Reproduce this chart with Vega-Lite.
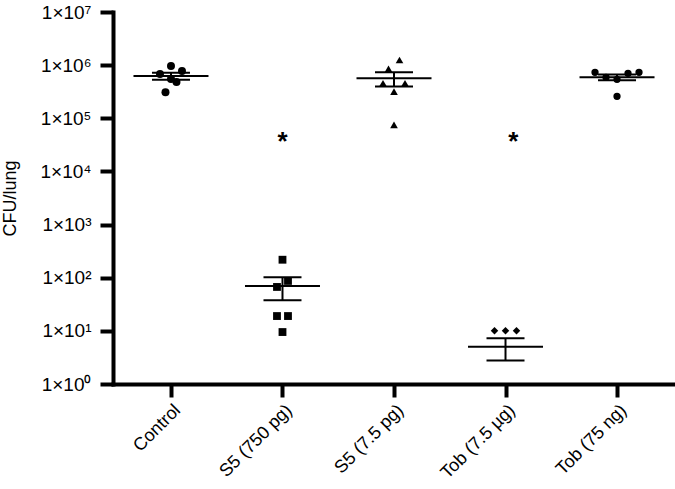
{
  "$schema": "https://vega.github.io/schema/vega-lite/v6.json",
  "autosize": {"type": "none"},
  "padding": {"left": 113, "top": 12, "right": 0, "bottom": 105},
  "width": 562,
  "height": 372,
  "background": "white",
  "config": {
    "view": {"stroke": null},
    "font": "Liberation Sans",
    "axis": {"labelFont": "Liberation Sans", "titleFont": "Liberation Sans", "labelColor": "black", "titleColor": "black", "domainColor": "black", "tickColor": "black", "labelFontSize": 18, "titleFontSize": 18}
  },
  "datasets": {
    "mice": [
      {"group": "Control", "cfu": 960000, "col": 0},
      {"group": "Control", "cfu": 680000, "col": -2},
      {"group": "Control", "cfu": 780000, "col": 2},
      {"group": "Control", "cfu": 550000, "col": 0},
      {"group": "Control", "cfu": 480000, "col": 1},
      {"group": "Control", "cfu": 310000, "col": -1},
      {"group": "S5 (750 pg)", "cfu": 218, "col": 0},
      {"group": "S5 (750 pg)", "cfu": 87, "col": 1},
      {"group": "S5 (750 pg)", "cfu": 67, "col": -1},
      {"group": "S5 (750 pg)", "cfu": 19, "col": -1},
      {"group": "S5 (750 pg)", "cfu": 19, "col": 1},
      {"group": "S5 (750 pg)", "cfu": 9.5, "col": 0},
      {"group": "S5 (7.5 pg)", "cfu": 1250000, "col": 1},
      {"group": "S5 (7.5 pg)", "cfu": 850000, "col": -1},
      {"group": "S5 (7.5 pg)", "cfu": 456000, "col": -2},
      {"group": "S5 (7.5 pg)", "cfu": 456000, "col": 2},
      {"group": "S5 (7.5 pg)", "cfu": 317000, "col": 0},
      {"group": "S5 (7.5 pg)", "cfu": 75000, "col": 0},
      {"group": "Tob (7.5 µg)", "cfu": 10, "col": -2},
      {"group": "Tob (7.5 µg)", "cfu": 10, "col": 0},
      {"group": "Tob (7.5 µg)", "cfu": 10, "col": 2},
      {"group": "Tob (7.5 µg)", "cfu": 0, "col": 0},
      {"group": "Tob (7.5 µg)", "cfu": 0, "col": 0},
      {"group": "Tob (7.5 µg)", "cfu": 0, "col": 0},
      {"group": "Tob (75 ng)", "cfu": 734000, "col": -4},
      {"group": "Tob (75 ng)", "cfu": 703000, "col": 2},
      {"group": "Tob (75 ng)", "cfu": 734000, "col": 4},
      {"group": "Tob (75 ng)", "cfu": 591000, "col": -2},
      {"group": "Tob (75 ng)", "cfu": 542000, "col": 0},
      {"group": "Tob (75 ng)", "cfu": 259000, "col": 0}
    ],
    "stars": [
      {"group": "S5 (750 pg)", "cfu": 46000, "label": "*", "col": 0},
      {"group": "Tob (7.5 µg)", "cfu": 46000, "label": "*", "col": 1.4}
    ]
  },
  "encoding": {
    "x": {
      "field": "group",
      "type": "nominal",
      "sort": ["Control", "S5 (750 pg)", "S5 (7.5 pg)", "Tob (7.5 µg)", "Tob (75 ng)"],
      "scale": {"type": "point", "padding": 0.52},
      "title": null,
      "axis": {"labelAngle": -45, "labelFontSize": 18, "tickSize": 13, "tickWidth": 4, "domainWidth": 4, "labelPadding": 4, "domainCap": "square"}
    }
  },
  "layer": [
    {
      "data": {"name": "mice"},
      "transform": [{"filter": "datum.cfu > 0"}],
      "mark": {"type": "point", "filled": true, "opacity": 1, "color": "black"},
      "encoding": {
        "y": {
          "field": "cfu",
          "type": "quantitative",
          "scale": {"type": "log", "domain": [1, 10000000], "nice": false},
          "title": "CFU/lung",
          "axis": {
            "values": [1, 10, 100, 1000, 10000, 100000, 1000000, 10000000],
            "labelExpr": "'1×10' + ['⁰','¹','²','³','⁴','⁵','⁶','⁷'][round(log(datum.value)/LN10)]",
            "labelFontSize": 19, "titleFontSize": 18, "titleFontWeight": "normal",
            "tickSize": 13, "tickWidth": 4, "domainWidth": 4, "domainCap": "square",
            "grid": false, "labelPadding": 9, "titlePadding": 21
          }
        },
        "xOffset": {"field": "col", "type": "quantitative", "scale": {"domain": [-4, 4], "range": [-22, 22]}},
        "shape": {
          "field": "group", "type": "nominal", "legend": null,
          "scale": {"domain": ["Control", "S5 (750 pg)", "S5 (7.5 pg)", "Tob (7.5 µg)", "Tob (75 ng)"], "range": ["circle", "square", "triangle-up", "diamond", "circle"]}
        },
        "size": {
          "field": "group", "type": "nominal", "legend": null,
          "scale": {"domain": ["Control", "S5 (750 pg)", "S5 (7.5 pg)", "Tob (7.5 µg)", "Tob (75 ng)"], "range": [64, 53, 56, 30, 64]}
        }
      }
    },
    {
      "data": {"name": "mice"},
      "transform": [
        {"aggregate": [{"op": "mean", "field": "cfu", "as": "m"}, {"op": "stderr", "field": "cfu", "as": "se"}], "groupby": ["group"]},
        {"calculate": "datum.m - datum.se", "as": "lo"},
        {"calculate": "datum.m + datum.se", "as": "hi"}
      ],
      "layer": [
        {"mark": {"type": "tick", "size": 75, "thickness": 2, "color": "black", "opacity": 1}, "encoding": {"y": {"field": "m", "type": "quantitative", "title": "CFU/lung"}}},
        {"mark": {"type": "tick", "size": 38, "thickness": 2, "color": "black", "opacity": 1}, "encoding": {"y": {"field": "lo", "type": "quantitative", "title": "CFU/lung"}}},
        {"mark": {"type": "tick", "size": 38, "thickness": 2, "color": "black", "opacity": 1}, "encoding": {"y": {"field": "hi", "type": "quantitative", "title": "CFU/lung"}}},
        {"mark": {"type": "rule", "strokeWidth": 2, "color": "black"}, "encoding": {"y": {"field": "lo", "type": "quantitative", "title": "CFU/lung"}, "y2": {"field": "hi"}}}
      ]
    },
    {
      "data": {"name": "stars"},
      "mark": {"type": "text", "fontSize": 26, "fontWeight": "bold", "color": "black", "baseline": "middle", "dy": 6},
      "encoding": {
        "y": {"field": "cfu", "type": "quantitative", "title": "CFU/lung"},
        "xOffset": {"field": "col", "type": "quantitative", "scale": {"domain": [-4, 4], "range": [-22, 22]}},
        "text": {"field": "label"}
      }
    }
  ]
}
